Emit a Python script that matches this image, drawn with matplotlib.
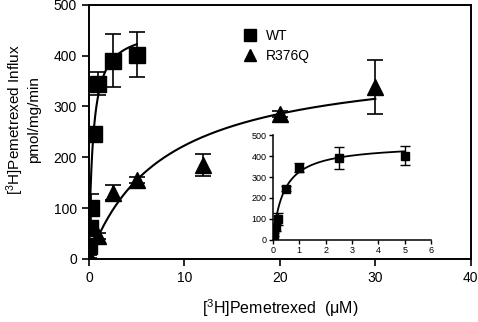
import numpy as np
import matplotlib
matplotlib.use("Agg")
import matplotlib.pyplot as plt

plt.rcParams['font.family'] = ['Liberation Sans', 'DejaVu Sans']
plt.rcParams['mathtext.fontset'] = 'custom'
plt.rcParams['mathtext.rm'] = 'Liberation Sans'
plt.rcParams['mathtext.it'] = 'Liberation Sans:italic'

# Data
wt_x = [0.05, 0.1, 0.2, 0.5, 1.0, 2.5, 5.0]
wt_y = [25, 60, 100, 245, 345, 390, 402]
wt_err = [8, 15, 27, 10, 22, 52, 45]

mut_x = [0.05, 1.0, 2.5, 5.0, 12.0, 20.0, 30.0]
mut_y = [5, 45, 130, 155, 185, 285, 338]
mut_err = [3, 5, 15, 6, 22, 6, 53]

# Michaelis-Menten fit parameters
wt_vmax, wt_km = 457.0, 0.41
mut_vmax, mut_km = 397.0, 7.8

def mm(x, vmax, km):
    return vmax * x / (km + x)

fig = plt.figure(figsize=(4.78, 3.22), dpi=100)
ax = fig.add_axes([0.186, 0.196, 0.799, 0.789])

xw = np.linspace(0, max(wt_x), 300)
xm = np.linspace(0, max(mut_x), 300)
ax.plot(xw, mm(xw, wt_vmax, wt_km), color='black', lw=1.5, zorder=2)
ax.plot(xm, mm(xm, mut_vmax, mut_km), color='black', lw=1.5, zorder=2)

ax.errorbar(wt_x, wt_y, yerr=wt_err, fmt='s', color='black', ms=11,
            capsize=6, elinewidth=1.2, capthick=1.2, label='WT', zorder=3)
ax.errorbar(mut_x, mut_y, yerr=mut_err, fmt='^', color='black', ms=11,
            capsize=6, elinewidth=1.2, capthick=1.2, label='R376Q', zorder=3)

ax.set_xlim(0, 40)
ax.set_ylim(0, 500)
ax.set_xticks([0, 10, 20, 30, 40])
ax.set_yticks([0, 100, 200, 300, 400, 500])
ax.tick_params(direction='out', length=5, width=1.2, labelsize=10)
for s in ax.spines.values():
    s.set_linewidth(1.4)
ax.set_xlabel(r'[$^{3}$H]Pemetrexed  ($\mathrm{\mu}$M)', fontsize=11.5)
ax.xaxis.set_label_coords(0.5, -0.15)
ax.set_ylabel('[$^{3}$H]Pemetrexed Influx\npmol/mg/min', fontsize=11, linespacing=1.15)
ax.yaxis.set_label_coords(-0.125, 0.55)

handles, labels = ax.get_legend_handles_labels()
handles = [h[0] for h in handles]
ax.legend(handles, labels, loc='upper left', bbox_to_anchor=(0.37, 0.955),
          frameon=False, fontsize=10, handlelength=1.0, handletextpad=0.7,
          labelspacing=0.45, markerscale=0.85)

# Inset
ins = fig.add_axes([0.571, 0.2547, 0.331, 0.326])
xi = np.linspace(0, max(wt_x), 300)
ins.plot(xi, mm(xi, wt_vmax, wt_km), color='black', lw=1.3, zorder=2)
ins.errorbar(wt_x, wt_y, yerr=wt_err, fmt='s', color='black', ms=6,
             capsize=3.5, elinewidth=1.0, capthick=1.0, zorder=3)
ins.set_xlim(0, 6)
ins.set_ylim(0, 500)
ins.set_xticks([0, 1, 2, 3, 4, 5, 6])
ins.set_yticks([0, 100, 200, 300, 400, 500])
ins.spines['top'].set_visible(False)
ins.spines['right'].set_visible(False)
for s in ['left', 'bottom']:
    ins.spines[s].set_linewidth(1.1)
ins.tick_params(direction='out', length=3, width=1.0, labelsize=6.5, pad=1.5)
ins.patch.set_alpha(0)

fig.savefig('out.png', dpi=100)
